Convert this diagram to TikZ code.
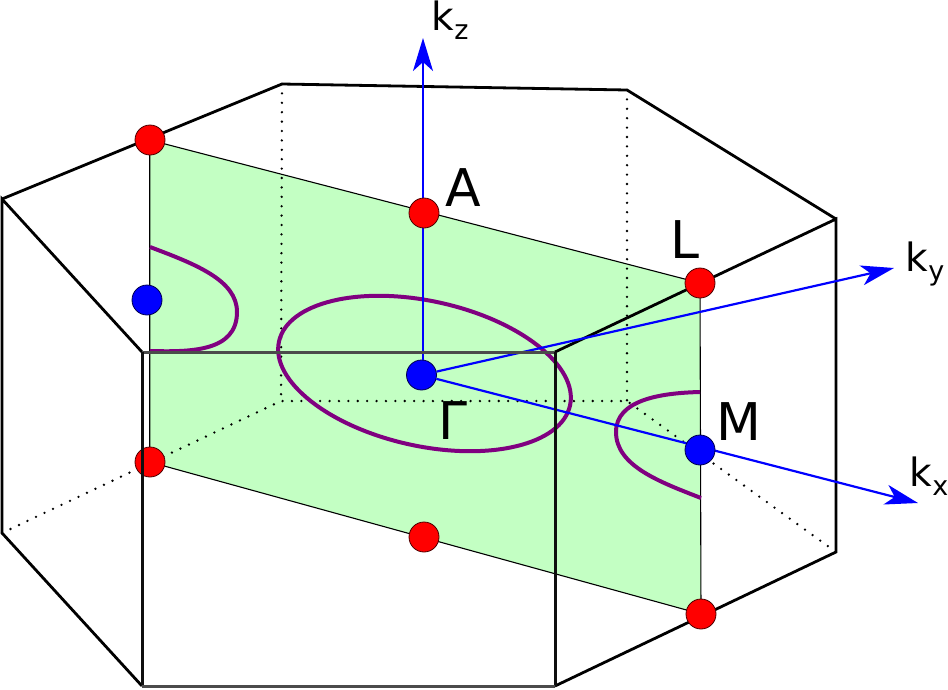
\documentclass[tikz,border=0pt]{standalone}
\usepackage{fontspec}
\setmainfont{DejaVu Sans}
\usetikzlibrary{arrows.meta}
\definecolor{planegreen}{RGB}{195,255,195}
\definecolor{curve}{RGB}{128,0,128}
\newcommand{\ksub}[1]{k\raisebox{-9pt}{\fontsize{27}{27}\selectfont #1}}
\tikzset{
 hexedge/.style={black,line width=2.8pt,line join=miter},
 frontv/.style={color={rgb,255:red,15;green,15;blue,15},line width=3pt,line join=miter},
 fronth/.style={color={rgb,255:red,75;green,75;blue,75},line width=3pt},
 hidden/.style={black,line width=2.6pt,line cap=round,dash pattern=on 0pt off 9.4pt},
 planeline/.style={black,line width=1.1pt},
 axis/.style={blue,line width=2.2pt},
 axishead/.style={-{Stealth[length=33pt,width=20pt,inset=9pt]}},
 fermi/.style={curve,line width=4pt},
 dotr/.style={circle,draw=black!70!red,line width=.8pt,fill=red,minimum size=30pt,inner sep=0pt},
 dotb/.style={circle,draw=black!70!blue,line width=.8pt,fill=blue,minimum size=30pt,inner sep=0pt},
 big/.style={font=\fontsize{52}{52}\selectfont,inner sep=0pt,text=black,anchor=base},
 small/.style={font=\fontsize{39}{39}\selectfont,inner sep=0pt,text=black,anchor=base west},
}
\begin{document}
\begin{tikzpicture}[x=1pt,y=-1pt]
\useasboundingbox (0,0) rectangle (948,689);
% vertices
\coordinate (t1) at (2,199);
\coordinate (t2) at (282,84);
\coordinate (t3) at (627,90);
\coordinate (t4) at (836,219);
\coordinate (t5) at (555,352);
\coordinate (t6) at (142,352);
\coordinate (b1) at (2,533);
\coordinate (b2) at (281,401);
\coordinate (b3) at (627,401);
\coordinate (b4) at (836,552);
\coordinate (b5) at (555,686);
\coordinate (b6) at (142,686);
\coordinate (pa) at (149.7,140);
\coordinate (pb) at (700,283);
\coordinate (pc) at (701,614);
\coordinate (pd) at (149.7,462);
\coordinate (kzend) at (423,38);
\coordinate (kyend) at (894,268);
\coordinate (kxend) at (918,503);
% plane
\fill[planegreen] (pa) -- (pb) -- (pc) -- (pd) -- cycle;
% hidden edges
\draw[hidden] (t2) -- (b2);
\draw[hidden] (t3) -- (b3);
\draw[hidden] (b1) -- (b2) -- (b3) -- (b4);
% plane outline
\draw[planeline] (pa) -- (pb) -- (pc) -- (pd) -- cycle;
% back edges
\draw[hexedge] (t5) -- (t4) -- (b4) -- (b5);
\draw[hexedge] (t1) -- (t2) -- (t3) -- (t4);
\draw[hexedge] (t6) -- (t1) -- (b1) -- (b6);
% Fermi surfaces
\draw[fermi,rotate around={-12.4:(424.5,373.5)}] (424.5,373.5) ellipse [x radius=149,y radius=72.5];
\draw[fermi] (150,247) .. controls (195,264) and (237,280) .. (237,312) .. controls (237,352) and (190,352) .. (150,351);
\draw[fermi] (700,392) .. controls (660,393) and (616,400) .. (616,432) .. controls (616,466) and (660,482) .. (701,498);
% axes
\node[dotb] (G) at (421.5,375) {};
\draw[axis,axishead] (G.north -| kzend) -- (kzend);
\draw[axis,axishead] (G) -- (kyend);
\draw[axis,axishead] (G) -- (kxend);
% points
\node[dotr] (A) at (424,213) {};
\node[dotr] (L) at (700,283) {};
\node[dotr] (R1) at (150,140) {};
\node[dotr] (R2) at (150,462) {};
\node[dotr] (R3) at (424,537) {};
\node[dotr] (R4) at (701,614) {};
\node[dotb] (M) at (700,450) {};
\node[dotb] (B1) at (147,300) {};
% front box
\draw[fronth] (t6) -- (t5);
\draw[frontv] (t6) -- (b6);
\draw[frontv] (b5) -- (t5);
\draw[fronth] (b6) -- (b5);
% labels
\node[big] (la) at (463,206) {A};
\node[big] (ll) at (684.5,258) {L};
\node[big] (lm) at (739,440) {M};
\node[big] (lg) at (452.5,439) {Γ};
\node[small] (lz) at (431.5,30) {\ksub{z}};
\node[small] (ly) at (905.5,271) {\ksub{y}};
\node[small] (lx) at (909.5,486) {\ksub{x}};
\end{tikzpicture}
\end{document}
